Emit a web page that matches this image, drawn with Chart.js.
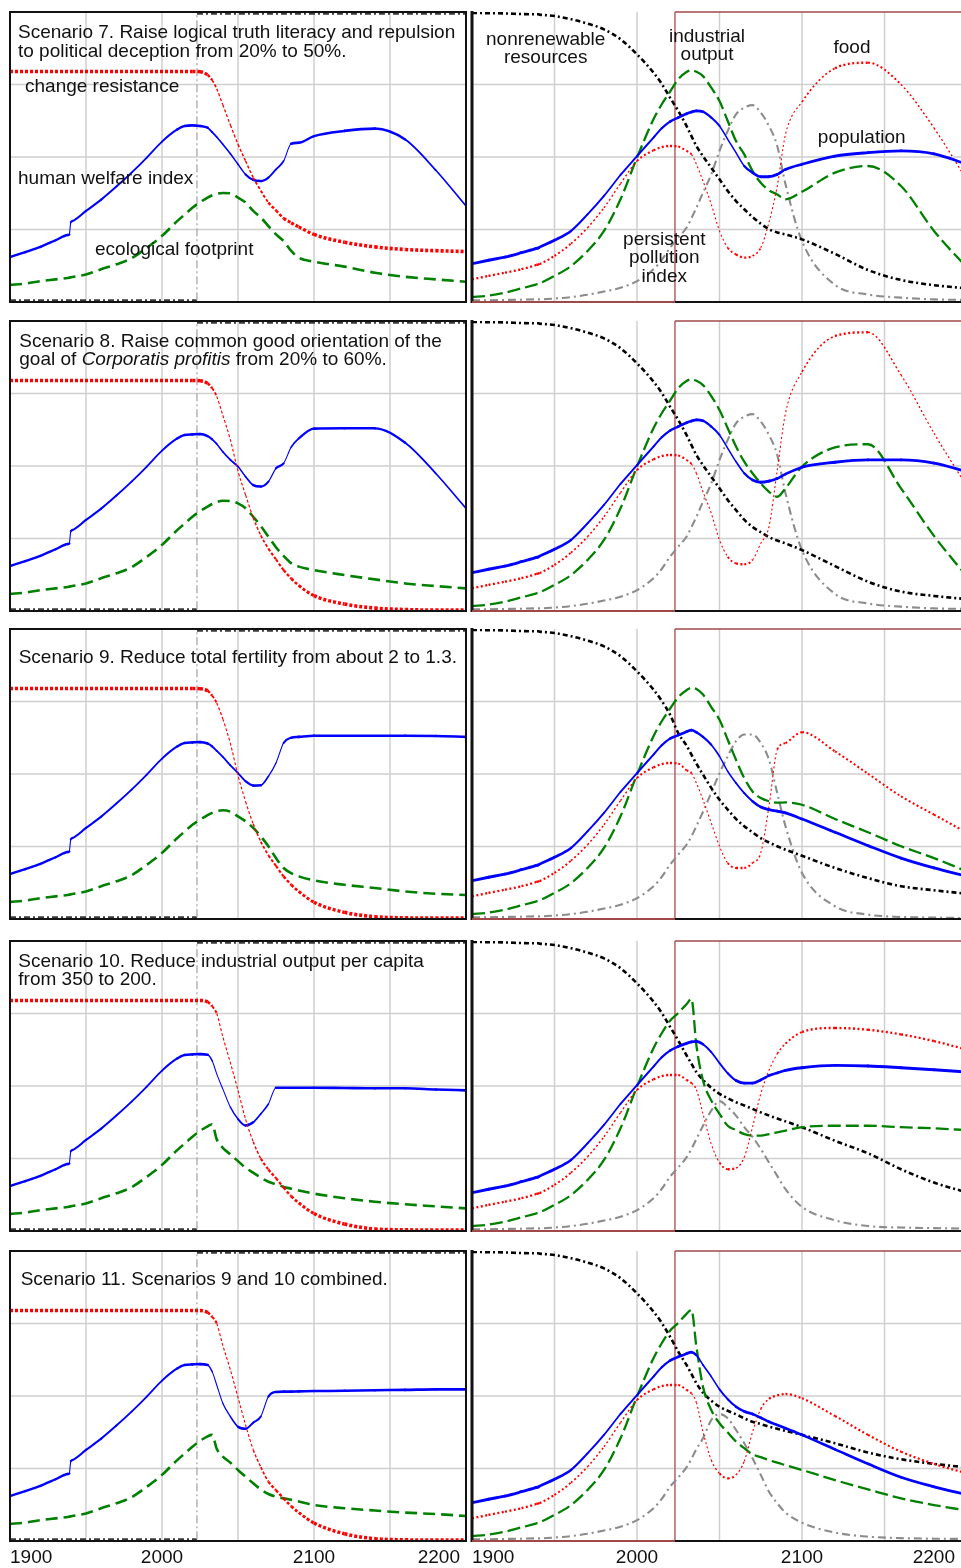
<!DOCTYPE html>
<html><head><meta charset="utf-8">
<script src="https://cdn.jsdelivr.net/npm/chart.js@4.4.1/dist/chart.umd.min.js"></script>
<style>
html,body{margin:0;padding:0;background:#fff;width:961px;height:1568px;overflow:hidden;position:relative;}
canvas{position:absolute;}
.t{position:absolute;font-family:"Liberation Sans",Arial,sans-serif;font-size:19px;line-height:19px;color:#111;white-space:nowrap;}
.c{transform:translateX(-50%);}
</style></head><body>
<script>
// ---------- years ----------
const HIST_YEARS = [1900,1910,1920,1930,1938,1939,1940,1941,1950,1960,1970,1980,1990,2000,2010,2015,2020];
const FUT_YEARS  = [2025,2030,2033,2036,2040,2045,2050,2055,2060,2065,2070,2075,2080,2085,2090,2100,2120,2140,2160,2180,2200];
const GRID_YEARS = [1950,2000,2050,2100,2150];
const GRID_VALUES = [25,50,75];
const TICK_YEARS = [1900,2000,2100,2200];
const TICK_LABELS = ['1900','2000','2100','2200'];
const NOW_YEAR = 2023;

// policy switch trace (left panels): off before 2023, on after
const POLICY_YEARS  = [1900, 2023, 2023, 2200];
const POLICY_VALUES = [0.6, 0.6, 99.4, 99.4];

// ---------- left panels (0-100 % of panel height) ----------
const CR_HIST  = [79.5,79.5,79.5,79.5,79.5,79.5,79.5,79.5,79.5,79.5,79.5,79.5,79.5,79.5,79.5,79.5,79.5];
const HWI_HIST = [15.5,17.2,19,21.3,23.1,23.3,27.5,27.9,31.4,35.3,39.8,44.6,49.8,55.3,59.5,60.7,60.9];
const EF_HIST  = [5.9,6.3,7.2,7.8,8.3,8.4,8.5,8.6,9.5,11.3,13,15.1,18.7,22.8,27.9,30.2,32.5];

const CR_S7  = [79.4,78.3,76.5,73.5,68,61,54.4,48.6,42.9,38.4,34.3,31.6,28.9,27.3,25.9,23.3,20.6,19,18.1,17.7,17.4];
const CR_S8  = [79.4,78.5,76.8,74,67.5,59,48.2,40,32.2,26.1,21.5,17.8,14.1,11.2,8.8,5.3,2.4,1,0.5,0.3,0.3];
const CR_S9  = [79.4,78.7,77,74.5,69,60.5,49.5,40.5,32.8,26.7,22,18.3,14.7,11.8,9.5,5.8,2.3,0.8,0.4,0.3,0.3];
const CR_S10 = [79.5,79,77.5,75,67,58,48.5,38.5,30.8,25,21.2,18.2,15,12,9.7,6,2.4,0.7,0.4,0.3,0.3];
const CR_S11 = [79.5,78.8,77.3,75,67.5,59,49.5,40,31.5,25.5,20.5,17.5,14.7,12,9.8,6.2,2.5,0.8,0.4,0.3,0.3];

const HWI_S7  = [60.7,60.1,58.6,56.9,54.4,51.1,47.5,44,42.1,41.7,42.9,45.7,48.6,54.6,54.9,57.2,59,59.8,56,45.5,33.1];
const HWI_S8  = [61,60.3,59.2,57.6,54.9,52.1,49.8,46.3,43.4,42.9,44.6,49.2,50.9,56.5,59.5,62.9,63,63,58,47.5,35.4];
const HWI_S9  = [61,60.5,59.5,58,55.9,53,50.3,47.5,46,46.1,49.2,53.8,60.7,62.5,62.8,63.2,63.2,63.2,63.2,63.1,62.8];
const HWI_S10 = [61,60.8,58.7,54.2,49,42.7,38.6,36.4,37.5,40.4,43.8,49.4,49.4,49.4,49.4,49.4,49.3,49.2,49.2,48.8,48.5];
const HWI_S11 = [61,60.7,58.4,53.8,47.5,42.9,39.4,38.7,40.8,42.9,49.8,51.4,51.5,51.5,51.6,51.7,51.8,52,52.1,52.3,52.3];

const EF_S7  = [34.4,36,36.8,37.3,37.6,37.5,36,34.3,31.4,29.1,26.2,23.3,21,17.6,15.3,13.9,12.2,10.1,8.7,7.8,7];
const EF_S8  = [34.4,36,36.9,37.6,38,37.9,37.1,35.4,32.5,29.3,25.6,22,19,16.5,15.3,14.1,12.4,10.9,9.5,8.6,7.8];
const EF_S9  = [34.2,35.8,36.6,37.2,37.5,37,35.4,33.7,31.4,28.5,25.1,21,17.6,15.8,14.7,13.3,11.8,10.7,9.5,8.7,8.3];
const EF_S10 = [34.5,36.1,36.8,31.6,28.7,26.4,24.1,21.8,20.1,18.4,17,16.1,15.2,14.6,14,12.9,11.3,10.1,9.2,8.5,7.8];
const EF_S11 = [34.5,36.1,36.6,31.8,29.1,27,24.5,22.2,19.9,17.8,16.2,15.3,14.7,14.2,13.6,12.4,11.3,10.5,9.8,9.3,8.6];

// ---------- right panels ----------
const NR_HIST   = [99.7,99.6,99.5,99.3,99.2,99.2,99.2,99.1,98.6,97.5,96,94,90.6,85.4,79.1,75.2,70.5];
const IO_HIST   = [1.7,2.2,3.2,4.7,5.9,6.1,6.2,6.4,9,12.4,17.6,24.5,35.4,49.8,63,68.2,72.5];
const FOOD_HIST = [7.8,9,10.1,11.3,12.6,12.8,12.9,13.1,15.9,20.1,25.6,32.5,40.8,48.6,52.3,53.4,53.8];
const POP_HIST  = [13.2,14.4,15.5,17,18.3,18.5,18.6,18.9,21.3,24.5,30.2,36.6,43.8,50.3,56.7,59.9,62.2];
const PPI_HIST  = [0.6,0.6,0.7,0.8,0.9,0.9,0.9,0.9,1.2,1.7,2.5,3.6,4.9,7.2,11.3,14.5,18.7];

const NR_S7  = [65.9,60.7,57.2,53.8,50.3,46.3,42.3,38.3,34.8,32,29.3,27,25.1,24,23.3,21.6,16.6,11,7.6,5.8,4.7];
const NR_S8  = [65.9,60.7,57.2,53.8,50.3,46.3,42.3,38.3,34.8,31.5,29,27.2,25.5,24.3,23.3,21,15.5,10.1,6.7,5.2,4.1];
const NR_S9  = [64.1,59.8,56.7,53.6,49.8,45.2,41.1,37.7,34.5,32,29.9,27.9,26.4,25.1,23.9,21.8,17.6,14.1,11.3,9.9,8.7];
const NR_S10 = [65.7,60.6,57.7,54.8,52.1,49.4,47.3,45.8,44.4,43.3,42.1,40.9,39.8,38.8,37.8,35.8,31.1,26.8,21.3,16.7,13.3];
const NR_S11 = [65.3,60.7,57.6,54.4,51.1,48.4,46.3,44.9,43.7,42.3,41.1,40.3,39.4,38.7,38,36.6,33.7,30.5,28.2,26.6,25.4];

const IO_S7  = [76.8,79.3,79.9,79.4,77.9,73.9,69.3,62.4,55.5,50.9,45.2,41.1,38.5,37.1,35.4,38,44.6,46.9,40,24.5,11.8];
const IO_S8  = [76.8,79.3,79.9,79.4,77.9,74.1,69.3,63,56.7,51.5,47.5,44,41.1,39.4,42.3,49.8,56.4,57.5,42.3,25.9,11.8];
const IO_S9  = [76.5,78.9,79.7,79.3,77.4,73.1,68.7,61.8,54.9,48.6,44,41.7,40.6,40.1,40.2,39.4,34.5,29.9,25.1,21,16.4];
const IO_S10 = [75.2,78.2,80,64,51.9,45,40.4,36.3,34.8,33.4,32.9,32.9,33.4,34,34.6,35.8,36.3,36.3,35.8,35.4,34.8];
const IO_S11 = [75.2,78.3,79.7,67,53.2,45.2,40.6,37.4,34.3,32,29.9,28.9,27.9,27,26.2,24.5,21,17.8,14.7,12.4,10.5];

const FOOD_S7  = [53.6,52.1,50.9,47.5,41.7,33.7,24.5,18.7,16.4,15.3,15.9,18.7,27.5,40,57.8,69,80.6,82.5,75,60,42];
const FOOD_S8  = [53.6,52.1,50.7,47.5,41.1,33.7,24.5,18.7,16.4,16.1,17.6,23.3,29.1,48.6,68.2,82.5,94.8,96.1,81.4,61.3,42.9];
const FOOD_S9  = [53.6,51.3,50.3,46.9,41.1,33.1,25.1,19.3,17.6,17.6,19.3,22.8,38.9,58.4,60.7,64.4,57.8,50.1,42.3,36,29.7];
const FOOD_S10 = [53.8,52.1,51,48.7,40.4,30,23.6,21.3,21.7,25.4,35.8,47.3,55.4,61.1,64.6,68.6,70,69.4,67.8,65.5,62.5];
const FOOD_S11 = [53.8,52.1,50.9,47.7,37.7,27.9,23.3,21.6,22.8,27.5,37.5,45.5,49,50.2,50.7,49.2,43.1,36.6,30.8,26.6,23.3];

const POP_S7  = [63.6,64.9,65.5,65.9,65.6,63.6,60.7,56.1,51.5,46.9,44.6,43.2,43.2,44,45.7,47.5,50.3,51.5,52.1,51.1,47.5];
const POP_S8  = [63.6,64.9,65.5,65.9,65.6,63.6,60.7,56.1,51.5,47.5,45.2,44.4,44.8,45.7,47.2,49.6,51.3,52.1,52.1,51,48];
const POP_S9  = [63.4,64.6,65.1,64.4,62.8,60.1,56.1,50.9,46.9,43.4,40.6,38.6,37.7,37.2,36.6,34.5,29.9,25.3,21,17.6,14.7];
const POP_S10 = [63.6,64.7,65.2,65.4,64.4,61.7,57.9,54.4,51.9,51,51,52.1,53.6,54.5,55.4,56.3,57.1,56.9,56.3,55.6,54.8];
const POP_S11 = [63.5,64.6,65.1,64.1,60.7,56.7,52.3,48.9,46.3,44.7,43.8,42.5,41.1,40,38.9,36.6,31.6,26.6,22,18.7,15.9];

const PPI_S7  = [22.2,25.6,28.9,32.5,37.7,44,52.1,59,64.7,67,67.9,65.3,60.7,53.8,40.6,21,5.9,2.6,1.5,0.9,0.7];
const PPI_S8  = [22.2,25.6,28.9,32.5,37.7,44,52.1,59,64.7,67,67.9,65.3,60.7,53.8,40.6,21,5.9,2.6,1.5,0.9,0.7];
const PPI_S9  = [22.2,25.6,28.5,32,37,43.5,50.3,56.1,61.3,63.6,63.6,60.7,54.9,43.4,32,15.9,4.4,1.5,0.7,0.5,0.3];
const PPI_S10 = [21.9,25.4,28.3,31.7,36.3,41.5,44.8,42.7,39.8,35.8,32.5,28.3,23.6,19,14.4,8.3,3.7,1.7,1.2,1,0.8];
const PPI_S11 = [21.9,25.4,28.3,31.7,35.4,41.7,43.8,42.3,38.3,33.7,28.5,22.8,17,13,9.8,6.3,2.9,1.5,1,0.8,0.7];

// ---------- layout ----------
const ROW_TOPS = [12, 321, 629, 941, 1251];
const PANEL_H = 290;
const LEFT_X = [10, 466];
const RIGHT_X = [472, 967];
const PAD = 3;

const LEFT_SCEN = [
  {cr:CR_S7, hwi:HWI_S7, ef:EF_S7},
  {cr:CR_S8, hwi:HWI_S8, ef:EF_S8},
  {cr:CR_S9, hwi:HWI_S9, ef:EF_S9},
  {cr:CR_S10, hwi:HWI_S10, ef:EF_S10},
  {cr:CR_S11, hwi:HWI_S11, ef:EF_S11}
];
const RIGHT_SCEN = [
  {nr:NR_S7, io:IO_S7, food:FOOD_S7, pop:POP_S7, ppi:PPI_S7},
  {nr:NR_S8, io:IO_S8, food:FOOD_S8, pop:POP_S8, ppi:PPI_S8},
  {nr:NR_S9, io:IO_S9, food:FOOD_S9, pop:POP_S9, ppi:PPI_S9},
  {nr:NR_S10, io:IO_S10, food:FOOD_S10, pop:POP_S10, ppi:PPI_S10},
  {nr:NR_S11, io:IO_S11, food:FOOD_S11, pop:POP_S11, ppi:PPI_S11}
];

const YEARS = HIST_YEARS.concat(FUT_YEARS);
function pts(hist, fut){ const v = hist.concat(fut); return YEARS.map((x,i)=>({x:x, y:v[i]})); }

// the original plots thick lines with a vertical "pen": steep parts look thinner
function steep(c){
  const dx = Math.abs(c.p1.x - c.p0.x) || 0.001;
  return Math.abs(c.p1.y - c.p0.y) / dx;
}
function penWidth(base){
  return c => { const s = steep(c); return Math.max(1.1, base / Math.sqrt(1 + s*s)); };
}
function line(color, width, dash, cap, pen){
  const o = {borderColor:color, borderWidth:width, borderDash:dash||[], borderCapStyle:cap||'butt'};
  if (pen) o.segment = {borderWidth:penWidth(width)};
  return o;
}

function seg(ctx,x1,y1,x2,y2){ ctx.beginPath(); ctx.moveTo(x1,y1); ctx.lineTo(x2,y2); ctx.stroke(); }

const framePlugin = {
  id:'frame',
  beforeDatasetsDraw(chart, args, o){
    const ctx = chart.ctx, a = chart.chartArea, xs = chart.scales.x, ys = chart.scales.y;
    ctx.save();
    ctx.strokeStyle = '#cfcfcf'; ctx.lineWidth = 1.5;
    GRID_YEARS.forEach(yr=>{ const px = xs.getPixelForValue(yr); seg(ctx,px,a.top,px,a.bottom); });
    GRID_VALUES.forEach(v=>{ const py = ys.getPixelForValue(v); seg(ctx,a.left,py,a.right,py); });
    if (o.side === 'right') {
      const nx = xs.getPixelForValue(NOW_YEAR);
      ctx.strokeStyle = '#b86a6a'; ctx.lineWidth = 1.6;
      seg(ctx,nx,a.top,nx,a.bottom);
    }
    ctx.restore();
  },
  afterDatasetsDraw(chart, args, o){
    const ctx = chart.ctx, a = chart.chartArea, xs = chart.scales.x;
    ctx.save();
    if (o.side === 'left') {
      ctx.strokeStyle = '#111'; ctx.lineWidth = 2;
      ctx.strokeRect(a.left, a.top, a.right-a.left, a.bottom-a.top);
    } else {
      const nx = xs.getPixelForValue(NOW_YEAR);
      ctx.strokeStyle = '#111'; ctx.lineWidth = 3;
      seg(ctx,a.left,a.top-1,a.left,a.bottom+1);
      ctx.lineWidth = 2;
      seg(ctx,nx,a.bottom,a.right,a.bottom);
      ctx.strokeStyle = '#a04848';
      seg(ctx,a.left,a.bottom,nx,a.bottom);
      ctx.lineWidth = 1.6;
      seg(ctx,nx,a.top,a.right,a.top);
    }
    ctx.restore();
  },
  afterDraw(chart, args, o){
    if (!o.ticks) return;
    const ctx = chart.ctx, a = chart.chartArea, xs = chart.scales.x;
    ctx.save();
    ctx.fillStyle = '#111';
    ctx.font = '19px "Liberation Sans", Arial, sans-serif';
    ctx.textBaseline = 'alphabetic';
    const visRight = Math.min(a.right, 961 - o.left) - 6;
    TICK_YEARS.forEach((yr,i)=>{
      let px = xs.getPixelForValue(yr);
      if (i === 0) { ctx.textAlign = 'left'; px = a.left; }
      else if (i === TICK_YEARS.length-1) { ctx.textAlign = 'right'; px = visRight; }
      else ctx.textAlign = 'center';
      ctx.fillText(TICK_LABELS[i], px, a.bottom + 21.7);
    });
    ctx.restore();
  }
};

function makeChart(side, row, datasets){
  const xr = side === 'left' ? LEFT_X : RIGHT_X;
  const bottom = row === ROW_TOPS.length-1;
  const cv = document.createElement('canvas');
  const w = xr[1]-xr[0] + 2*PAD, h = PANEL_H + 2*PAD + (bottom ? 26 : 0);
  cv.width = w; cv.height = h;
  cv.style.left = (xr[0]-PAD)+'px'; cv.style.top = (ROW_TOPS[row]-PAD)+'px';
  cv.style.width = w+'px'; cv.style.height = h+'px';
  document.body.appendChild(cv);
  new Chart(cv, {
    type:'line',
    data:{datasets:datasets},
    options:{
      responsive:false, animation:false, devicePixelRatio:1,
      layout:{padding:{left:PAD,right:PAD,top:PAD,bottom:PAD+(bottom?26:0)}},
      plugins:{legend:{display:false}, tooltip:{enabled:false},
        frame:{side:side, ticks:bottom, left:xr[0]-PAD}},
      elements:{point:{radius:0}, line:{cubicInterpolationMode:'monotone', fill:false, borderJoinStyle:'round'}},
      scales:{
        x:{type:'linear', min:1900, max:2200, display:false},
        y:{type:'linear', min:0, max:100, display:false}
      }
    },
    plugins:[framePlugin]
  });
}

const policyData = POLICY_YEARS.map((x,i)=>({x:x, y:POLICY_VALUES[i]}));

LEFT_SCEN.forEach((s,row)=>{
  makeChart('left', row, [
    Object.assign({data:pts(CR_HIST, s.cr)}, line('#ff0000', 3.6, [3,2], 'butt', true)),
    Object.assign({data:pts(HWI_HIST, s.hwi)}, line('#0000ff', 2.6, [], 'round', true)),
    Object.assign({data:pts(EF_HIST, s.ef)}, line('#008000', 2.6, [12,6])),
    {data:policyData, cubicInterpolationMode:'default', tension:0,
     borderColor:'#3a3a3a', borderWidth:2.2, borderDash:[6,3,2,3],
     segment:{
       borderColor: c => steep(c) > 5 ? '#a8a8a8' : undefined,
       borderWidth: c => steep(c) > 5 ? 1.3 : undefined,
       borderDash:  c => steep(c) > 5 ? [8,3,2,3] : undefined
     }}
  ]);
});
RIGHT_SCEN.forEach((s,row)=>{
  makeChart('right', row, [
    Object.assign({data:pts(POP_HIST, s.pop)}, line('#0000ff', 2.9, [], 'round', true)),
    Object.assign({data:pts(FOOD_HIST, s.food)}, line('#ff0000', 2.4, [2,2.5], 'butt', true)),
    Object.assign({data:pts(IO_HIST, s.io)}, line('#008000', 2.3, [13,5])),
    Object.assign({data:pts(NR_HIST, s.nr)}, line('#000000', 2.6, [5,3,2,3])),
    Object.assign({data:pts(PPI_HIST, s.ppi)}, line('#8c8c8c', 2.1, [8,4,2,4]))
  ]);
});

// ---------- texts ----------
const TEXTS = [
  ['Scenario 7. Raise logical truth literacy and repulsion', 18, 37.7, 0],
  ['to political deception from 20% to 50%.', 18, 56.7, 0],
  ['change resistance', 25, 91.7, 0],
  ['human welfare index', 18, 184.3, 0],
  ['ecological footprint', 95, 255, 0],
  ['nonrenewable', 545.7, 45, 1],
  ['resources', 545.7, 63.3, 1],
  ['industrial', 707, 42.3, 1],
  ['output', 707, 60, 1],
  ['food', 852, 53.3, 1],
  ['population', 861.7, 143.3, 1],
  ['persistent', 664.3, 245, 1],
  ['pollution', 664.3, 263.3, 1],
  ['index', 664.3, 281.7, 1],
  ['Scenario 8. Raise common good orientation of the', 19.3, 346.7, 0],
  ['goal of <i>Corporatis profitis</i> from 20% to 60%.', 19.3, 365, 0],
  ['Scenario 9. Reduce total fertility from about 2 to 1.3.', 18.7, 663.3, 0],
  ['Scenario 10. Reduce industrial output per capita', 18.3, 966.7, 0],
  ['from 350 to 200.', 18.3, 985, 0],
  ['Scenario 11. Scenarios 9 and 10 combined.', 20.7, 1285, 0]
];
TEXTS.forEach(t=>{
  const d = document.createElement('div');
  d.className = 't' + (t[3] ? ' c' : '');
  d.innerHTML = t[0];
  d.style.left = t[1]+'px';
  d.style.top = (t[2]-16.1)+'px';
  document.body.appendChild(d);
});
</script>
</body></html>
